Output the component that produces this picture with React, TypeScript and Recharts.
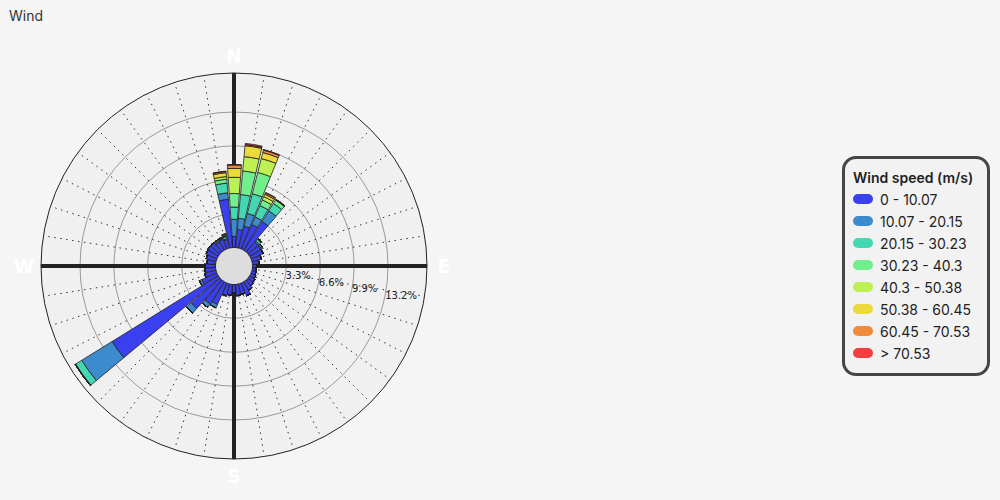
import React from 'react';
import {
  RadialBarChart,
  RadialBar,
  PolarAngleAxis,
  PolarRadiusAxis,
  PolarGrid,
  Legend,
} from 'recharts';

// ---- categories: 40 direction bins (degrees, clockwise from N) ----
const DIRECTIONS = [
  0, 9, 18, 27, 36, 45, 54, 63, 72, 81,
  90, 99, 108, 117, 126, 135, 144, 153, 162, 171,
  180, 189, 198, 207, 216, 225, 234, 243, 252, 261,
  270, 279, 288, 297, 306, 315, 324, 333, 342, 351,
];

const CARDINAL_LABELS: Record<number, string> = { 0: 'N', 90: 'E', 180: 'S', 270: 'W' };
const RING_TICKS = [3.3, 6.6, 9.9, 13.2];
const RADIUS_MAX = 16.5;

const SPEED_LABELS = [
  '0 - 10.07',
  '10.07 - 20.15',
  '20.15 - 30.23',
  '30.23 - 40.3',
  '40.3 - 50.38',
  '50.38 - 60.45',
  '60.45 - 70.53',
  '> 70.53',
];
const SPEED_COLORS = ['#3a40f0', '#3c8ccd', '#43d8b2', '#72ee8d', '#bdf053', '#ecd93b', '#ef8b3b', '#f43e3e'];

// ---- frequencies (%) per speed bin, per direction ----
const SPEED_0_10 = [
  1.08, 1.76, 2.2, 2.6, 3.33, 1.3, 1.25, 1.25, 0.95, 0.65,
  0.42, 0.38, 0.42, 0.5, 0.62, 0.7, 0.95, 1.35, 1.05, 1.1,
  0.85, 1.05, 1.2, 2.28, 2.55, 3.7, 12.17, 1.6, 1.15, 1.05,
  1.05, 0.85, 1.0, 1.15, 1.22, 1.22, 0.95, 1.0, 0.85, 4.72,
];
const SPEED_10_20 = [
  1.67, 1.11, 1.28, 0.8, 1.22, 0.15, 0.1, 0.05, 0, 0,
  0, 0, 0, 0, 0, 0, 0, 0, 0, 0,
  0, 0, 0, 0.35, 0.42, 0.6, 3.48, 0.25, 0, 0,
  0, 0, 0, 0, 0, 0, 0.08, 0.1, 0.1, 0.63,
];
const SPEED_20_30 = [
  1.19, 2.32, 1.98, 1.2, 0.85, 0.2, 0.15, 0, 0, 0,
  0, 0, 0, 0, 0, 0, 0, 0, 0, 0,
  0, 0, 0, 0, 0, 0, 0.7, 0, 0, 0,
  0, 0, 0, 0, 0, 0, 0.15, 0.1, 0.2, 0.95,
];
const SPEED_30_40 = [
  1.32, 2.31, 2.14, 0.6, 0.4, 0.1, 0, 0, 0, 0,
  0, 0, 0, 0, 0, 0, 0, 0, 0, 0,
  0, 0, 0, 0, 0, 0, 0.05, 0, 0, 0,
  0, 0, 0, 0, 0, 0, 0, 0, 0.1, 0.38,
];
const SPEED_40_50 = [
  1.58, 1.4, 1.4, 0.35, 0.05, 0, 0, 0, 0, 0,
  0, 0, 0, 0, 0, 0, 0, 0, 0, 0,
  0, 0, 0, 0, 0, 0, 0, 0, 0, 0,
  0, 0, 0, 0, 0, 0, 0, 0, 0, 0.26,
];
const SPEED_50_60 = [
  0.87, 1.07, 0.6, 0.25, 0, 0, 0, 0, 0, 0,
  0, 0, 0, 0, 0, 0, 0, 0, 0, 0,
  0, 0, 0, 0, 0, 0, 0, 0, 0, 0,
  0, 0, 0, 0, 0, 0, 0, 0, 0.08, 0.38,
];
const SPEED_60_70 = [
  0.33, 0.1, 0.25, 0.15, 0, 0, 0, 0, 0, 0,
  0, 0, 0, 0, 0, 0, 0, 0, 0, 0,
  0, 0, 0, 0, 0, 0, 0, 0, 0, 0,
  0, 0, 0, 0, 0, 0, 0, 0, 0.12, 0.12,
];
const SPEED_70_PLUS = [
  0.05, 0.12, 0.05, 0.05, 0.03, 0, 0, 0, 0, 0,
  0, 0, 0, 0, 0, 0, 0, 0, 0, 0,
  0, 0, 0, 0, 0, 0, 0, 0, 0, 0,
  0, 0, 0, 0, 0, 0, 0, 0, 0, 0.04,
];

const SERIES = [
  SPEED_0_10, SPEED_10_20, SPEED_20_30, SPEED_30_40,
  SPEED_40_50, SPEED_50_60, SPEED_60_70, SPEED_70_PLUS,
];

const data = DIRECTIONS.map((dir, i) => {
  const row: Record<string, number> = { dir };
  SERIES.forEach((s, k) => {
    row[`s${k}`] = s[i];
  });
  return row;
});

// ---- layout constants ----
const W = 1000;
const H = 500;
const CX = 234;
const CY = 266;
const INNER_R = 18.5;
const OUTER_R = 193;
const BAND_HALF = 180 / DIRECTIONS.length;
// compass bearing -> recharts angle (counter-clockwise from 3 o'clock)
const toChartAngle = (bearing: number) => 90 - bearing;
const SPOKE_ANGLES = DIRECTIONS.map(toChartAngle);
const AXIS_ANGLES = Object.keys(CARDINAL_LABELS).map((b) => toChartAngle(Number(b)));

// Recharts places category angle ticks on a band edge; shift labels to the band centre.
const AngleTick = (props: any) => {
  const { x, y, payload } = props;
  const label = CARDINAL_LABELS[payload?.value];
  if (!label) return <g />;
  const phi = (BAND_HALF * Math.PI) / 180;
  const dx = x - CX;
  const dy = y - CY;
  const nx = CX + dx * Math.cos(phi) + dy * Math.sin(phi);
  const ny = CY - dx * Math.sin(phi) + dy * Math.cos(phi);
  return (
    <text
      x={nx}
      y={ny}
      textAnchor="middle"
      dominantBaseline="central"
      fill="#ffffff"
      fontSize={19}
      fontWeight={700}
      fontFamily="DejaVu Sans, sans-serif"
    >
      {label}
    </text>
  );
};

const RadiusTick = (props: any) => {
  const { x, y, payload } = props;
  return (
    <text x={x} y={y} dy={3.5} textAnchor="start" fill="#222" fontSize={10} fontFamily="DejaVu Sans, sans-serif">
      {`${payload.value}%`}
    </text>
  );
};

const WindLegend = () => (
  <div
    style={{
      width: 148,
      height: 220,
      boxSizing: 'border-box',
      border: '3px solid #454545',
      borderRadius: 14,
      background: '#f2f2f2',
      padding: '8px 0 0 8px',
      fontFamily: 'Inter, sans-serif',
      color: '#222',
    }}
  >
    <div style={{ fontSize: 14, fontWeight: 600, lineHeight: '21px', whiteSpace: 'nowrap' }}>Wind speed (m/s)</div>
    {SPEED_LABELS.map((label, i) => (
      <div key={label} style={{ display: 'flex', alignItems: 'center', height: 22, fontSize: 14, whiteSpace: 'nowrap' }}>
        <span
          style={{
            display: 'inline-block',
            width: 20,
            height: 10,
            borderRadius: 5,
            background: SPEED_COLORS[i],
            marginRight: 7,
          }}
        />
        {label}
      </div>
    ))}
  </div>
);

export default function App() {
  return (
    <div
      style={{
        position: 'absolute',
        left: 0,
        top: 0,
        width: W,
        height: H,
        background: `radial-gradient(circle at ${CX}px ${CY}px, #dddddd 0px, #dddddd 17.6px, #b5b5b5 18.3px, #f0f0f0 19px, #f0f0f0 ${OUTER_R - 0.5}px, #f4f5f4 ${OUTER_R + 0.5}px)`,
        fontFamily: 'Inter, sans-serif',
      }}
    >
      <div style={{ position: 'absolute', left: 9, top: 7, fontSize: 14, color: '#333', fontFamily: 'Inter, sans-serif' }}>
        Wind
      </div>
      <RadialBarChart
        width={W}
        height={H}
        data={data}
        layout="centric"
        cx={CX}
        cy={CY}
        innerRadius={INNER_R}
        outerRadius={OUTER_R}
        startAngle={90 - BAND_HALF}
        endAngle={90 - BAND_HALF - 360}
        barCategoryGap="3%"
        margin={{ top: 0, right: 0, bottom: 0, left: 0 }}
      >
        <PolarGrid gridType="circle" radialLines={false} stroke="#9a9a9a" strokeWidth={1} />
        <PolarGrid
          gridType="circle"
          polarRadius={[]}
          polarAngles={SPOKE_ANGLES}
          stroke="#333"
          strokeWidth={1}
          strokeDasharray="1.5 4.5"
        />
        <PolarGrid gridType="circle" polarRadius={[]} polarAngles={AXIS_ANGLES} stroke="#222" strokeWidth={4} />
        <PolarAngleAxis
          dataKey="dir"
          type="category"
          axisLineType="circle"
          axisLine={{ stroke: '#222', strokeWidth: 1 }}
          tickLine={false}
          tickSize={17}
          tick={AngleTick}
        />
        <PolarRadiusAxis
          type="number"
          domain={[0, RADIUS_MAX]}
          allowDataOverflow
          ticks={RING_TICKS}
          angle={-11}
          axisLine={false}
          tickLine={false}
          tick={RadiusTick}
        />
        {SERIES.map((_, k) => (
          <RadialBar
            key={k}
            dataKey={`s${k}`}
            name={SPEED_LABELS[k]}
            stackId="wind"
            fill={SPEED_COLORS[k]}
            stroke="#1e1e1e"
            strokeWidth={0.8}
            isAnimationActive={false}
          />
        ))}
        <Legend
          layout="vertical"
          align="right"
          verticalAlign="middle"
          wrapperStyle={{ left: 842, top: 156, right: 'auto', bottom: 'auto' }}
          content={() => <WindLegend />}
        />
      </RadialBarChart>
    </div>
  );
}
